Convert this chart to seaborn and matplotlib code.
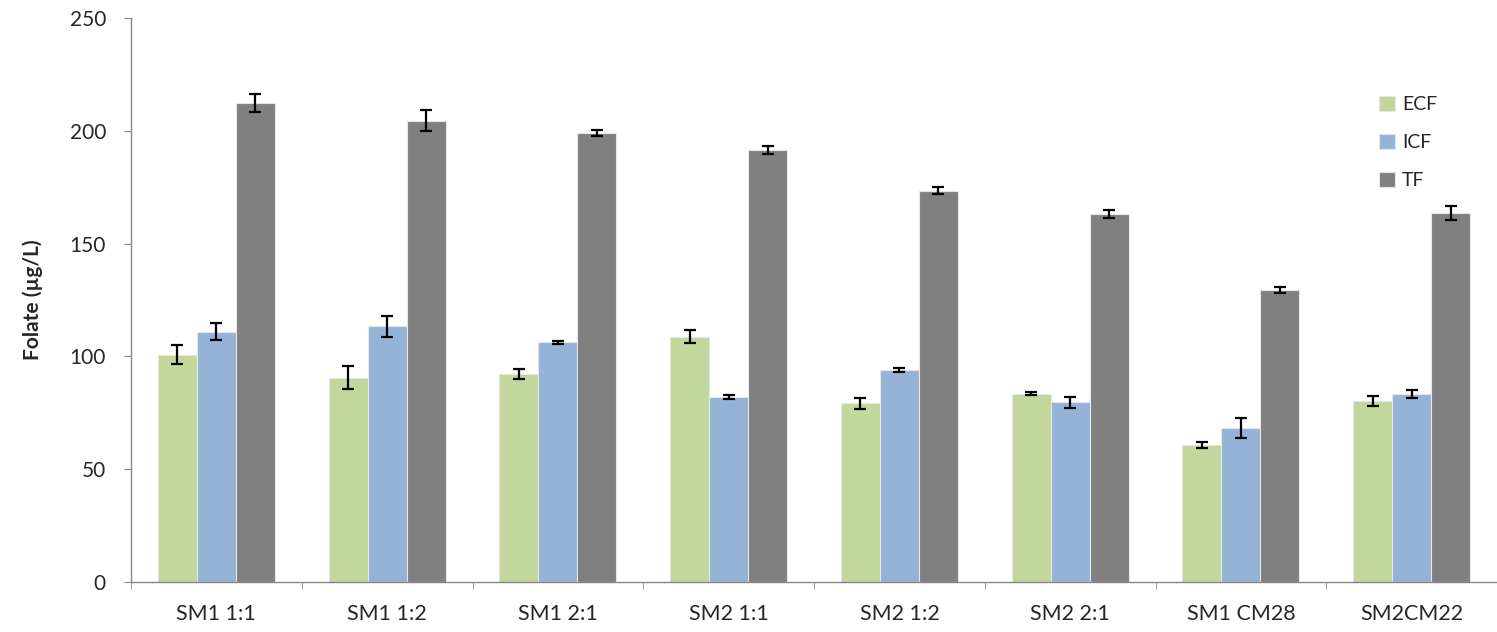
import numpy as np
import pandas as pd
import matplotlib
matplotlib.use("Agg")
import matplotlib.pyplot as plt
import seaborn as sns
from matplotlib.ticker import MultipleLocator, FixedLocator

samples = ["SM1 1:1", "SM1 1:2", "SM1 2:1", "SM2 1:1", "SM2 1:2", "SM2 2:1", "SM1 CM28", "SM2CM22"]
fractions = ["ECF", "ICF", "TF"]

ecf = [100.8, 90.6, 92.3, 108.8, 79.2, 83.5, 60.8, 80.2]
icf = [111.0, 113.4, 106.3, 82.1, 94.0, 79.7, 68.2, 83.3]
tf = [212.2, 204.5, 199.2, 191.5, 173.4, 163.1, 129.3, 163.6]

ecf_err = [4.2, 5.0, 2.2, 2.9, 2.5, 0.8, 1.3, 2.2]
icf_err = [3.6, 4.6, 0.7, 0.8, 1.0, 2.4, 4.3, 1.7]
tf_err = [4.0, 4.6, 1.3, 1.9, 1.6, 1.6, 1.4, 3.0]

colors = ["#C3D69B", "#95B3D7", "#808080"]

df = pd.DataFrame({
    "Sample": samples * 3,
    "Fraction": [f for f in fractions for _ in samples],
    "Folate": ecf + icf + tf,
})
errors = {"ECF": ecf_err, "ICF": icf_err, "TF": tf_err}
values = {"ECF": ecf, "ICF": icf, "TF": tf}

sns.set_style("white")
plt.rcParams["font.family"] = ["Lato", "DejaVu Sans"]

W, H = 1497, 632
fig = plt.figure(figsize=(W / 100, H / 100), dpi=100)
ax = fig.add_axes([131 / W, (H - 582) / H, (W - 131) / W, (582 - 18) / H])

sns.barplot(data=df, x="Sample", y="Folate", hue="Fraction", order=samples,
            hue_order=fractions, palette=colors, width=0.685, saturation=1,
            edgecolor="#E6E6E6", linewidth=0.8, ax=ax)

for cont, frac in zip(ax.containers, fractions):
    xs = [p.get_x() + p.get_width() / 2 for p in cont.patches]
    ax.errorbar(xs, values[frac], yerr=errors[frac], fmt="none", ecolor="black",
                elinewidth=1.6, capsize=4.5, capthick=1.6, zorder=5)

ax.set_xlim(-0.5, len(samples) - 0.5)
ax.set_ylim(0, 250)
ax.yaxis.set_major_locator(MultipleLocator(50))
ax.set_xlabel("")
ax.set_ylabel("Folate (µg/L)", fontsize=15, fontweight="bold", labelpad=19)

for side in ["top", "right"]:
    ax.spines[side].set_visible(False)
for side in ["left", "bottom"]:
    ax.spines[side].set_color("#868686")
    ax.spines[side].set_linewidth(1.0)

ax.tick_params(axis="y", which="major", direction="out", length=5, color="#868686",
               labelsize=15, left=True, pad=13)
ax.tick_params(axis="x", which="major", length=0, labelsize=15.5, pad=16)
ax.xaxis.set_minor_locator(FixedLocator(np.arange(-0.5, len(samples), 1.0)))
ax.tick_params(axis="x", which="minor", direction="out", length=5, color="#868686", bottom=True)

handles, labels = ax.get_legend_handles_labels()
ax.get_legend().remove()

# Legend: squares stacked on a fixed pitch, top-right of the plot
LEG_FS = 14
fs_px = LEG_FS * fig.dpi / 72
target_left, target_top, target_pitch = 1379, 96, 38


def build_legend(spacing, anchor):
    return fig.legend(handles, labels, loc="upper left", bbox_to_anchor=anchor,
                      frameon=False, fontsize=LEG_FS, borderpad=0, borderaxespad=0,
                      handlelength=0.82, handleheight=0.82, handletextpad=0.36,
                      labelspacing=spacing)


spacing = 0.9
anchor = (target_left / W, 1 - target_top / H)
leg = build_legend(spacing, anchor)
for _ in range(3):
    fig.canvas.draw()
    boxes = [p.get_window_extent() for p in leg.get_patches()]
    pitch = (boxes[0].y0 + boxes[0].y1) / 2 - (boxes[1].y0 + boxes[1].y1) / 2
    top_px = H - boxes[0].y1
    left_px = boxes[0].x0
    spacing += (target_pitch - pitch) / fs_px
    anchor = (anchor[0] + (target_left - left_px) / W,
              anchor[1] + (top_px - target_top) / H)
    leg.remove()
    leg = build_legend(spacing, anchor)

fig.savefig("out.png", dpi=100)
